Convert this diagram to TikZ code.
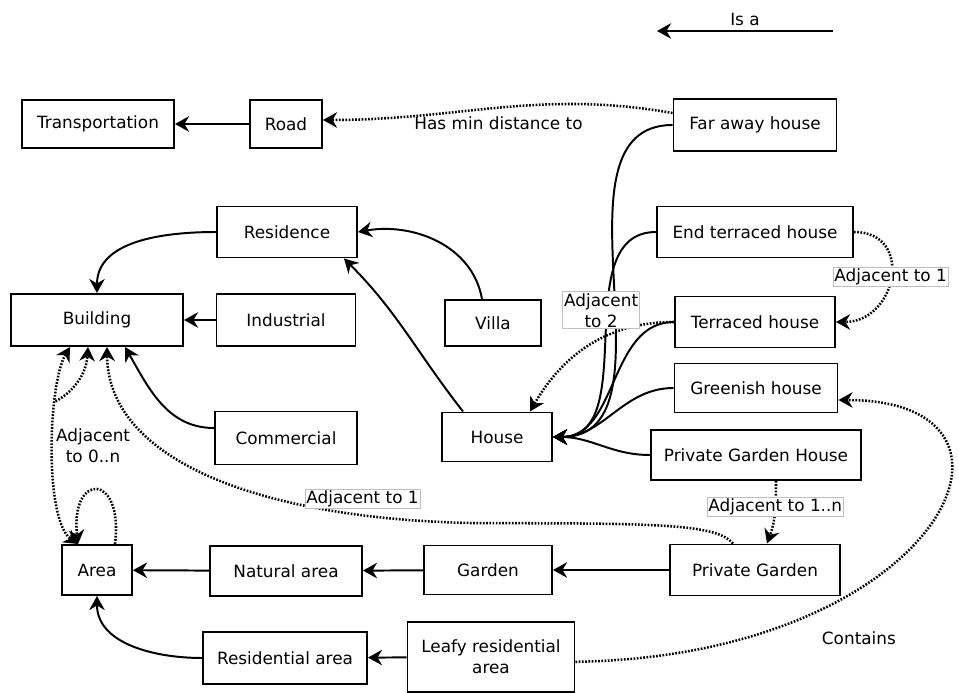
\documentclass[tikz,border=0pt]{standalone}
\usepackage{fontspec}
\setmainfont{DejaVu Sans}
\usetikzlibrary{arrows.meta}
\usetikzlibrary{calc}

\tikzset{
    box/.style={draw, line width=1.4pt, inner sep=2pt, align=center},
    isa/.style={->, line width=1.4pt},
    rel/.style={->, line width=1.8pt, dash pattern=on 1.2pt off 1.1pt},
    tag/.style={draw=black!25, line width=0.5pt, fill=white, inner sep=1pt, align=center, solid},
}

\begin{document}
\begin{tikzpicture}[font=\fontsize{12}{15}\selectfont, >={Stealth[length=10pt,width=11pt]}]
            \useasboundingbox (0,0) rectangle (23.975,-17.325);

            \node[box, minimum width=3.8cm, minimum height=1.2cm] (transp) at (2.45,-3.1) {Transportation};
            \node[box, minimum width=1.8cm, minimum height=1.2cm] (road) at (7.15,-3.1) {Road};
            \node[box, minimum width=4.075cm, minimum height=1.3cm] (faraway) at (18.875,-3.125) {Far away house};
            \node[box, minimum width=3.5cm, minimum height=1.275cm] (residence) at (7.175,-5.8) {Residence};
            \node[box, minimum width=4.9cm, minimum height=1.275cm] (endterr) at (18.875,-5.8) {End terraced house};
            \node[box, minimum width=4.3cm, minimum height=1.3cm] (building) at (2.425,-8.0) {Building};
            \node[box, minimum width=3.475cm, minimum height=1.3cm] (industrial) at (7.15,-8.0) {Industrial};
            \node[box, minimum width=2.4cm, minimum height=1.15cm] (villa) at (12.325,-8.075) {Villa};
            \node[box, minimum width=4.0cm, minimum height=1.275cm] (terraced) at (18.875,-8.05) {Terraced house};
            \node[box, minimum width=4.075cm, minimum height=1.225cm] (greenish) at (18.9,-9.7) {Greenish house};
            \node[box, minimum width=3.55cm, minimum height=1.325cm] (commercial) at (7.15,-10.95) {Commercial};
            \node[box, minimum width=2.75cm, minimum height=1.225cm] (house) at (12.425,-10.925) {House};
            \node[box, minimum width=5.25cm, minimum height=1.25cm] (pgh) at (18.9,-11.375) {Private Garden House};
            \node[box, minimum width=1.75cm, minimum height=1.25cm] (area) at (2.425,-14.25) {Area};
            \node[box, minimum width=3.8cm, minimum height=1.25cm] (natural) at (7.15,-14.275) {Natural area};
            \node[box, minimum width=3.2cm, minimum height=1.225cm] (garden) at (12.2,-14.25) {Garden};
            \node[box, minimum width=4.25cm, minimum height=1.275cm] (privgarden) at (18.875,-14.25) {Private Garden};
            \node[box, minimum width=4.1cm, minimum height=1.3cm] (resarea) at (7.125,-16.45) {Residential area};
            \node[box, minimum width=4.175cm, minimum height=1.75cm] (leafy) at (12.275,-16.425) {Leafy residential\\area};

            \coordinate (isafrom) at (20.825,-0.775);
            \coordinate (isato) at (16.425,-0.775);
            \draw[isa] (isafrom) to node[above] {Is a} (isato);

            \draw[isa] (road) to (transp);
            \draw[isa] (residence.west) to[out=180,in=90] (building.north);
            \draw[isa] (industrial) to (building);
            \draw[isa] ([yshift=0.25cm]commercial.west) to[out=180,in=-60] ([xshift=0.7cm]building.south);
            \draw[isa] ([xshift=-0.275cm]villa.north) to[out=100,in=10] (residence.east);
            \draw[isa] ([xshift=-0.85cm]house.north) to[out=128,in=-45] ([xshift=-0.35cm]residence.south east);
            \foreach \src in {faraway,endterr,terraced,greenish,pgh}
                \draw[isa] (\src.west) to[out=180,in=0] (house.east);
            \draw[isa] (privgarden) to (garden);
            \draw[isa] (garden) to (natural);
            \draw[isa] (natural) to (area);
            \draw[isa] (leafy) to (resarea);
            \draw[isa] (resarea.west) to[out=180,in=-90] (area.south);

            \draw[rel] ([yshift=0.3cm]faraway.west) to[out=170,in=0] node[below=2pt] {Has min distance to} ([yshift=0.1cm]road.east);
            \draw[rel] (endterr.east) to[out=0,in=0,looseness=1.7] node[tag] {Adjacent to 1} (terraced.east);
            \draw[rel] (terraced.west) to[out=180,in=60] node[tag, pos=0.33, xshift=-0.35cm, yshift=0.55cm] {Adjacent\\to 2} ([xshift=0.825cm]house.north);
            \draw[rel] ([xshift=0.5cm]pgh.south) to[out=-90,in=70] node[tag, pos=0.4] {Adjacent to 1..n} ([xshift=0.3cm]privgarden.north);
            \draw[rel] ([xshift=-0.55cm]privgarden.north) .. controls (17.9,-13.1) and (16.5,-13.08) .. (12.0,-13.08)
                .. controls (6.5,-13.0) and (2.7,-11.5) .. node[tag, pos=0.19, yshift=0.42cm] {Adjacent to 1} ([xshift=0.25cm]building.south);
            \draw[rel] ([yshift=-0.12cm]leafy.east) .. controls (23.5,-16.4) and (26.5,-10.0) .. node[pos=0.3, xshift=0.6cm, yshift=-0.9cm] {Contains} ([yshift=-0.3cm]greenish.east);

            \draw[rel, <->] ([xshift=-0.675cm]building.south) .. controls (1.2,-9.6) and (1.1,-13.0) .. coordinate[pos=0.3] (adjsplit) node[pos=0.48, right=-2pt, align=center] {Adjacent\\to 0..n} ([xshift=-0.475cm]area.north);
            \draw[rel] (adjsplit) .. controls (1.65,-9.9) and (2.15,-9.5) .. ([xshift=-0.225cm]building.south);
            \draw[rel] ([xshift=0.45cm]area.north) .. controls (3.1,-11.8) and (1.75,-11.8) .. ([xshift=-0.475cm]area.north);
        \end{tikzpicture}
\end{document}
